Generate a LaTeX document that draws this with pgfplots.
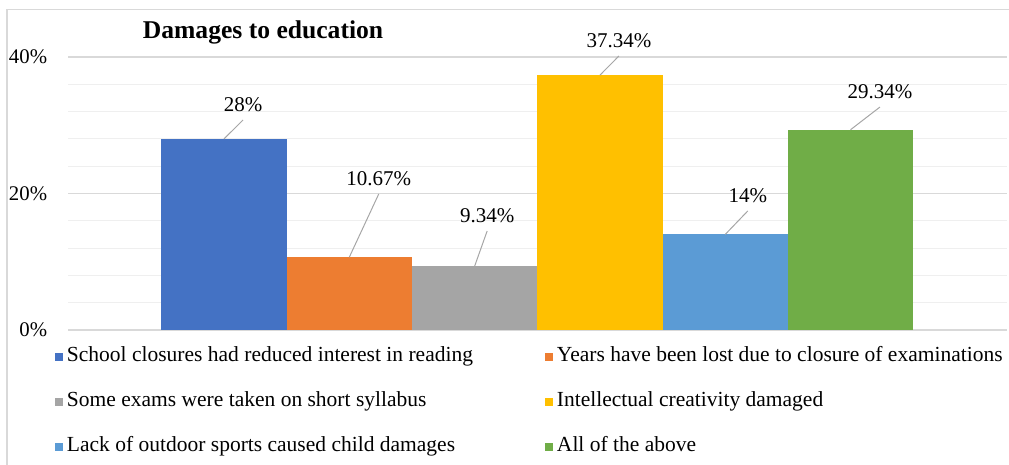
\documentclass[border=0pt]{standalone}
\usepackage{fontspec}
\setmainfont{Liberation Serif}
\usepackage{pgfplots}
\pgfplotsset{compat=1.18}
\definecolor{cBlue}{HTML}{4472C4}
\definecolor{cOrange}{HTML}{ED7D31}
\definecolor{cGray}{HTML}{A5A5A5}
\definecolor{cGold}{HTML}{FFC000}
\definecolor{cLBlue}{HTML}{5B9BD5}
\definecolor{cGreen}{HTML}{70AD47}
\definecolor{cGridMajor}{HTML}{D9D9D9}
\definecolor{cGridMinor}{HTML}{EFEFEF}
\definecolor{cLeader}{HTML}{A6A6A6}
\definecolor{cBorder}{HTML}{D9D9D9}
\pgfplotsset{sqlegend/.style={legend image code/.code={\fill[##1] (0pt,-4pt) rectangle (8pt,4pt); \path (12pt,0pt);}}}
\begin{document}
\begin{tikzpicture}[x=1pt,y=1pt]
\useasboundingbox (0,0) rectangle (1009,464);
\draw[cBorder, line width=1.3pt] (7,-5) -- (7,454.7) -- (1020,454.7);
\begin{axis}[
  at={(68pt,134pt)}, anchor=south west,
  scale only axis, width=938.5pt, height=273pt,
  xmin=-1.245, xmax=6.245, ymin=0, ymax=40,
  xtick=\empty, ytick={0,20,40}, yticklabels={0\%,20\%,40\%},
  minor ytick={4,8,12,16,24,28,32,36},
  ymajorgrids, yminorgrids,
  major grid style={draw=cGridMajor, line width=1.1pt},
  minor grid style={draw=cGridMinor, line width=1.1pt},
  axis line style={draw=none},
  major tick length=0pt, minor tick length=0pt,
  yticklabel style={font=\fontsize{20.8}{24}\selectfont, anchor=east, inner sep=0pt, xshift=-20.7pt},
  clip=false,
  title={Damages to education},
  title style={at={(0.2078,1.044)}, anchor=base, font=\fontsize{25.6}{30}\selectfont\bfseries, inner sep=0pt},
  legend columns=2,
  legend cell align=left,
  legend style={at={(-0.01385,-0.0612)}, anchor=north west, draw=none, fill=none,
    inner sep=0pt, outer sep=0pt, row sep=25pt, column sep=0pt,
    nodes={inner sep=0pt, text height=15pt, text depth=5pt, font=\fontsize{21.5}{25}\selectfont}},
]
\addplot[ybar, bar width=125.3pt, bar shift=0pt, fill=cBlue, draw=none, sqlegend] coordinates {(0,28)};
\addlegendentry{\makebox[478pt][l]{School closures had reduced interest in reading}}
\addplot[ybar, bar width=125.3pt, bar shift=0pt, fill=cOrange, draw=none, sqlegend] coordinates {(1,10.67)};
\addlegendentry{Years have been lost due to closure of examinations}
\addplot[ybar, bar width=125.3pt, bar shift=0pt, fill=cGray, draw=none, sqlegend] coordinates {(2,9.34)};
\addlegendentry{\makebox[478pt][l]{Some exams were taken on short syllabus}}
\addplot[ybar, bar width=125.3pt, bar shift=0pt, fill=cGold, draw=none, sqlegend] coordinates {(3,37.34)};
\addlegendentry{Intellectual creativity damaged}
\addplot[ybar, bar width=125.3pt, bar shift=0pt, fill=cLBlue, draw=none, sqlegend] coordinates {(4,14)};
\addlegendentry{\makebox[478pt][l]{Lack of outdoor sports caused child damages}}
\addplot[ybar, bar width=125.3pt, bar shift=0pt, fill=cGreen, draw=none, sqlegend] coordinates {(5,29.34)};
\addlegendentry{All of the above}
% leader lines
\addplot[cLeader, line width=1pt, mark=none, forget plot, unbounded coords=jump] coordinates {
 (0,28) (0.152,30.77) (0.5,nan)
 (1,10.67) (1.235,19.93) (1.5,nan)
 (2,9.34) (2.1,14.5) (2.5,nan)
 (3,37.34) (3.152,40.15) (3.5,nan)
 (4,14) (4.18,17.44) (4.5,nan)
 (5,29.34) (5.235,32.67)
};
% data labels
\addplot[draw=none, mark=none, forget plot, nodes near coords, point meta=explicit symbolic,
  every node near coord/.style={anchor=base, yshift=8.3pt, inner sep=0pt, text=black, font=\fontsize{21}{24}\selectfont}]
 coordinates {
 (0.152,30.77) [28\%]
 (1.235,19.93) [10.67\%]
 (2.1,14.5) [9.34\%]
 (3.152,40.15) [37.34\%]
 (4.18,17.44) [14\%]
 (5.235,32.67) [29.34\%]
};
\end{axis}
\end{tikzpicture}
\end{document}
